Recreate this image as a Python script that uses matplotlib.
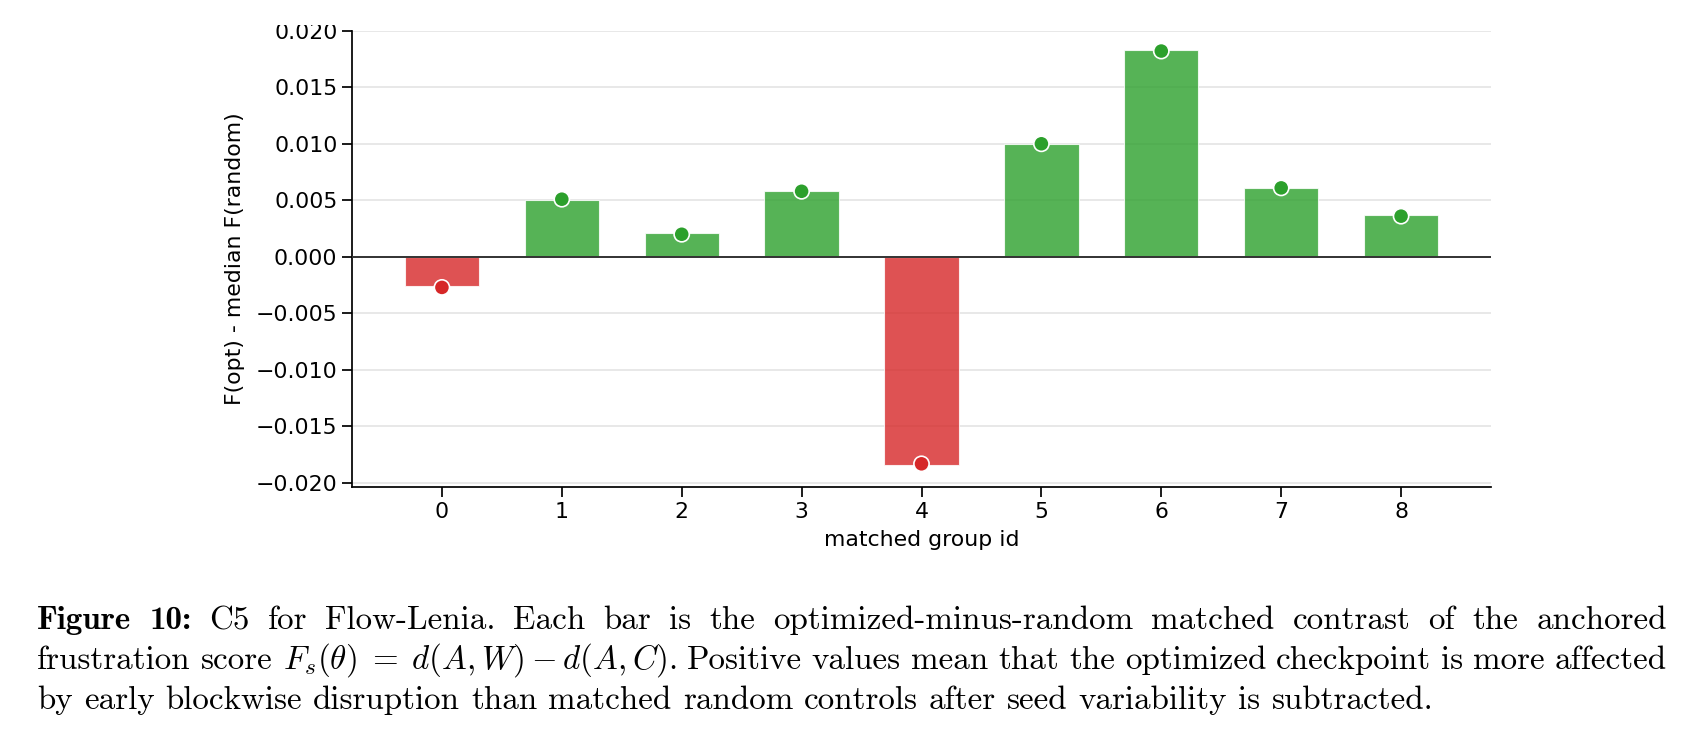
import matplotlib
matplotlib.use("Agg")
import matplotlib.pyplot as plt
from matplotlib.transforms import IdentityTransform

# data
group_ids = [0, 1, 2, 3, 4, 5, 6, 7, 8]
contrast = [-0.0026, 0.0050, 0.0021, 0.0058, -0.0184, 0.0100, 0.0183, 0.0061, 0.0037]
median_pts = [-0.0027, 0.0051, 0.0020, 0.0058, -0.0183, 0.0100, 0.0182, 0.0061, 0.0036]
yticks = [-0.020, -0.015, -0.010, -0.005, 0.000, 0.005, 0.010, 0.015, 0.020]

caption_lines = [
    [("Figure", True), ("10:", True), "C5", "for", "Flow-Lenia.", "Each", "bar", "is", "the",
     "optimized-minus-random", "matched", "contrast", "of", "the", "anchored"],
    ["frustration", "score", r"$F_s(\theta)\;=\;d(A,W) - d(A,C)$.", "Positive", "values", "mean",
     "that", "the", "optimized", "checkpoint", "is", "more", "affected"],
    ["by", "early", "blockwise", "disruption", "than", "matched", "random", "controls", "after",
     "seed", "variability", "is", "subtracted."],
]

plt.rcParams["mathtext.fontset"] = "cm"

W, H = 1705, 740
fig = plt.figure(figsize=(W / 100, H / 100), dpi=100)
ax = fig.add_axes([352 / W, 1 - 487 / H, (1491 - 352) / W, (487 - 30.7) / H])

green, red = "#2ca02c", "#d62728"
cols = [green if v >= 0 else red for v in contrast]

ax.set_axisbelow(True)
ax.yaxis.grid(True, color="#e6e6e6", lw=1.3)
ax.bar(group_ids, contrast, width=0.62, color=cols, alpha=0.8,
       edgecolor="white", linewidth=0.8, zorder=2)
ax.axhline(0, color="#333333", lw=1.4, zorder=3)
ax.scatter(group_ids, median_pts, s=120, c=cols, edgecolors="white",
           linewidths=1.2, zorder=4)

ax.set_xlim(-0.75, 8.75)
ax.set_ylim(-0.02035, 0.020)
ax.set_xticks(group_ids)
ax.set_yticks(yticks)
ax.set_yticklabels([f"{t:.3f}".replace("-", "\u2212") for t in yticks])
ax.tick_params(labelsize=15.8, length=7, width=1.25)
for s in ["top", "right"]:
    ax.spines[s].set_visible(False)
for s in ["left", "bottom"]:
    ax.spines[s].set_linewidth(1.25)
ax.set_xlabel("matched group id", fontsize=15.8, labelpad=6)
ax.set_ylabel("F(opt) - median F(random)", fontsize=15.8, labelpad=8)

# the source figure is cropped just above the top tick
cut = plt.Rectangle((0, H - 25), W, 25, facecolor="white", edgecolor="none", zorder=10)
cut.set_transform(IdentityTransform())
fig.patches.append(cut)

# caption, justified like the LaTeX original
fig.canvas.draw()
r = fig.canvas.get_renderer()
x0, x1 = 37.3, 1667
base = [629, 669, 709]

probe = fig.text(0, 0, " ".join(caption_lines[2]), fontsize=24, family="cmr10")
fs = 24 * 1394 / probe.get_window_extent(r).width
probe.remove()
space = 0.333 * fs * 100 / 72

for i, line in enumerate(caption_lines):
    y = H - base[i]
    items = []
    for w in line:
        bold = False
        if isinstance(w, tuple):
            w, bold = w
        t = fig.text(0, y, w, fontsize=fs, family="cmb10" if bold else "cmr10",
                     va="baseline", ha="left", transform=IdentityTransform())
        items.append(t)
    widths = [t.get_window_extent(r).width for t in items]
    if i < 2:
        gap = (x1 - x0 - sum(widths)) / (len(items) - 1)
    else:
        gap = space
    x = x0
    for t, w in zip(items, widths):
        t.set_x(x)
        x += w + gap

fig.savefig("out.png", dpi=100)
